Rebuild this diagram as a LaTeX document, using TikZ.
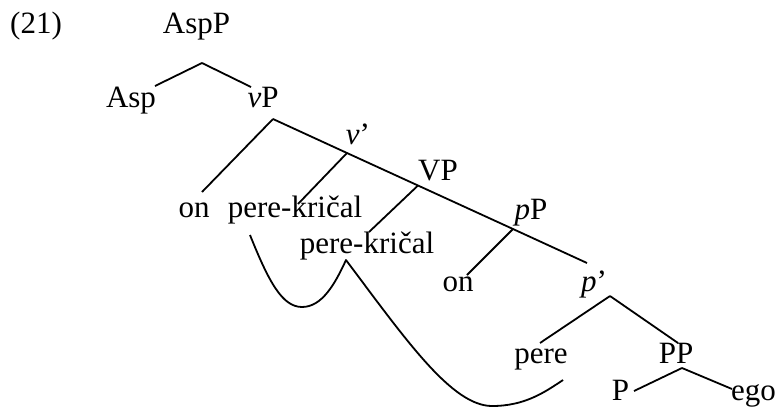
\documentclass[tikz,border=0pt]{standalone}
\usepackage{fontspec}
\setmainfont{Liberation Serif}
\usepackage{tikz}
\tikzstyle{lab}=[anchor=base, inner sep=0pt]
\tikzstyle{branch}=[line width=1.8pt]
\tikzstyle{move}=[draw, line width=1.8pt, line join=round]

\begin{document}
\begin{tikzpicture}[x=1pt,y=-1pt,font=\fontsize{31}{37}\selectfont]
		    \useasboundingbox (0,0) rectangle (776,408);
		    % labels
		    \node [lab] (ex) at (36,33) {(21)};
		    \node [lab] (AspP) at (196.5,33) {AspP};
		    \node [lab] (Asp) at (131,107) {Asp};
		    \node [lab] (vP) at (263,107) {\textit{v}P};
		    \node [lab] (vbar) at (358,144) {\textit{v}’};
		    \node [lab] (VP) at (438,180) {VP};
		    \node [lab] (pP) at (531,219) {\textit{p}P};
		    \node [lab] (pbar) at (594,291) {\textit{p}’};
		    \node [lab] (on1) at (194,217) {on};
		    \node [lab] (pk1) at (295,217) {pere-kričal};
		    \node [lab] (pk2) at (367,253) {pere-kričal};
		    \node [lab] (on2) at (458,291) {on};
		    \node [lab] (pere) at (541,363) {pere};
		    \node [lab] (PP) at (676,363) {PP};
		    \node [lab] (P) at (620.5,400) {P};
		    \node [lab] (ego) at (753.5,400) {ego};
		    % branch points
		    \coordinate (AspPfoot) at (202,63);
		    \coordinate (AspL) at (155,86);
		    \coordinate (AspR) at (251,87);
		    \coordinate (vPfoot) at (273,119);
		    \coordinate (vPL) at (202,192);
		    \coordinate (vbarfoot) at (347,153);
		    \coordinate (vbarL) at (298,204);
		    \coordinate (VPfoot) at (418,185.5);
		    \coordinate (VPL) at (369,232);
		    \coordinate (pPfoot) at (513,229);
		    \coordinate (pPL) at (467,275);
		    \coordinate (pPR) at (587,263);
		    \coordinate (pbarfoot) at (610,296);
		    \coordinate (pbarL) at (540,343);
		    \coordinate (pbarR) at (678,343);
		    \coordinate (PPfoot) at (682,368);
		    \coordinate (PPL) at (634,391);
		    \coordinate (PPR) at (732,389);
		    % movement line
		    \coordinate (mvA) at (250,235);
		    \coordinate (mvAlow) at (302,307);
		    \coordinate (mvB) at (346,260);
		    \coordinate (mvBlow) at (492,406);
		    \coordinate (mvC) at (563,380);
		    \draw[branch] (vPfoot) -- (vbarfoot) -- (VPfoot) -- (pPfoot) -- (pPR);
		    \path[branch]
		    (AspPfoot) edge (AspL)
		    (AspPfoot) edge (AspR)
		    (vPfoot) edge (vPL)
		    (vbarfoot) edge (vbarL)
		    (VPfoot) edge (VPL)
		    (pPfoot) edge (pPL)
		    (pbarfoot) edge (pbarL)
		    (pbarfoot) edge (pbarR)
		    (PPfoot) edge (PPL)
		    (PPfoot) edge (PPR);
		    \path[move] (mvA) .. controls +(18.5,46) and +(-20,0) .. (mvAlow)
		    .. controls +(20,0) and +(-11,24) .. (mvB)
		    .. controls +(60,80) and +(-40,0) .. (mvBlow)
		    .. controls +(33,0) and +(-18,12) .. (mvC);
		\end{tikzpicture}
\end{document}
